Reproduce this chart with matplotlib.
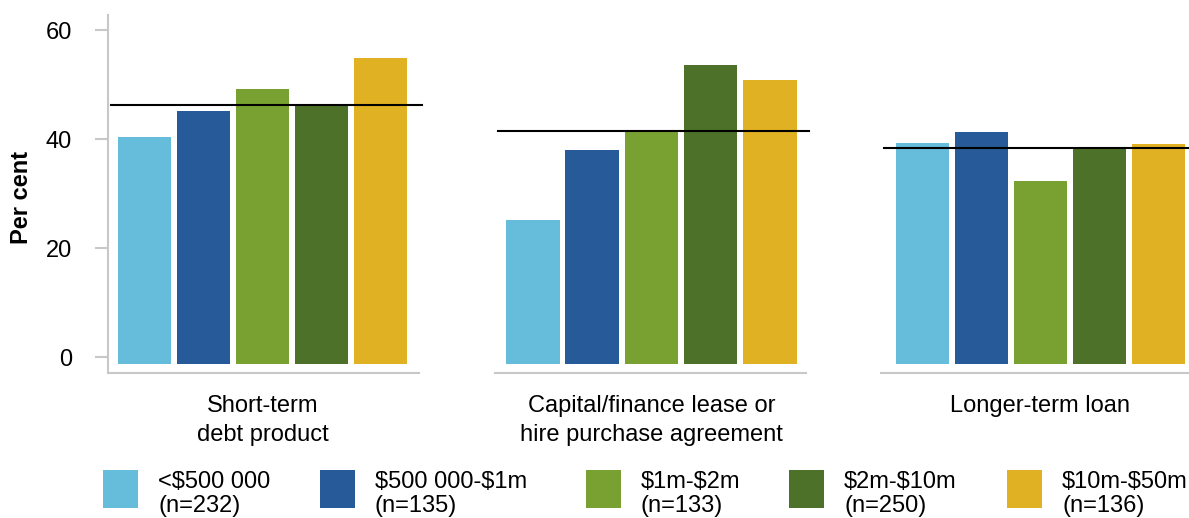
import matplotlib
matplotlib.use("Agg")
import matplotlib.pyplot as plt
from matplotlib.patches import Rectangle
import numpy as np

plt.rcParams['font.family'] = ['Liberation Sans', 'DejaVu Sans']
plt.rcParams['text.parse_math'] = False

categories = ["Short-term\ndebt product",
              "Capital/finance lease or\nhire purchase agreement",
              "Longer-term loan"]
series_labels = ["<$500 000\n(n=232)", "$500 000-$1m\n(n=135)", "$1m-$2m\n(n=133)",
                 "$2m-$10m\n(n=250)", "$10m-$50m\n(n=136)"]
short_term = [40.5, 45.1, 49.2, 46.4, 55.0]
capital_lease = [25.1, 38.0, 41.3, 53.6, 50.8]
longer_term = [39.4, 41.3, 32.3, 38.6, 39.1]
averages = [46.2, 41.45, 38.4]
yticks = [0, 20, 40, 60]

panel_values = [short_term, capital_lease, longer_term]
colors = ["#66BCDB", "#275A98", "#79A132", "#4D7129", "#E0B122"]
spine_col = "#c8c8c8"
FS = 17
base = -1.2

W, H = 1189, 518
fig = plt.figure(figsize=(W / 100, H / 100), dpi=100)

panel_left_px = [108, 495, 881]
xlims = [(-0.62, 4.65), (-0.64, 4.61), (-0.70, 4.57)]
ax_bottom_px, ax_top_px = 373, 15

for i, (vals, cat, avg) in enumerate(zip(panel_values, categories, averages)):
    left = panel_left_px[i] / W
    width = 311 / W
    ax = fig.add_axes([left, (H - ax_bottom_px) / H, width, (ax_bottom_px - ax_top_px) / H])
    x = np.arange(len(vals))
    v = np.array(vals)
    ax.bar(x, v - base, bottom=base, width=0.9, color=colors, linewidth=0)
    ax.axhline(avg, xmin=0.01, xmax=1.01, color="black", linewidth=1.5, clip_on=False, zorder=3)
    ax.set_xlim(*xlims[i])
    ax.set_ylim(-2.9, 62.8)
    for s in ["top", "right"]:
        ax.spines[s].set_visible(False)
    ax.spines["bottom"].set_color(spine_col)
    ax.spines["bottom"].set_linewidth(1.5)
    ax.set_xticks([2])
    ax.set_xticklabels([cat], fontsize=FS, linespacing=1.4)
    ax.tick_params(axis="x", length=0, pad=16)
    if i == 0:
        ax.spines["left"].set_color(spine_col)
        ax.spines["left"].set_linewidth(1.5)
        ax.set_yticks(yticks)
        ax.set_yticklabels([str(t) for t in yticks], fontsize=FS)
        ax.tick_params(axis="y", length=9.4, width=1.5, color=spine_col, pad=16.5)
    else:
        ax.spines["left"].set_visible(False)
        ax.set_yticks([])

fig.text(22 / W, (H - 197) / H, "Per cent", rotation=90, ha="center", va="center",
         fontsize=FS, fontweight="bold")

# legend
patch_x_px = [103, 320, 586, 789, 1007]
for px, lab, col in zip(patch_x_px, series_labels, colors):
    fig.patches.append(Rectangle((px / W, (H - 508) / H), 35 / W, 38 / H,
                                 transform=fig.transFigure, facecolor=col, edgecolor="none"))
    fig.text((px + 55) / W, (H - 471) / H, lab, ha="left", va="top", fontsize=FS,
             linespacing=1.12)

fig.savefig("out.png", dpi=100)
